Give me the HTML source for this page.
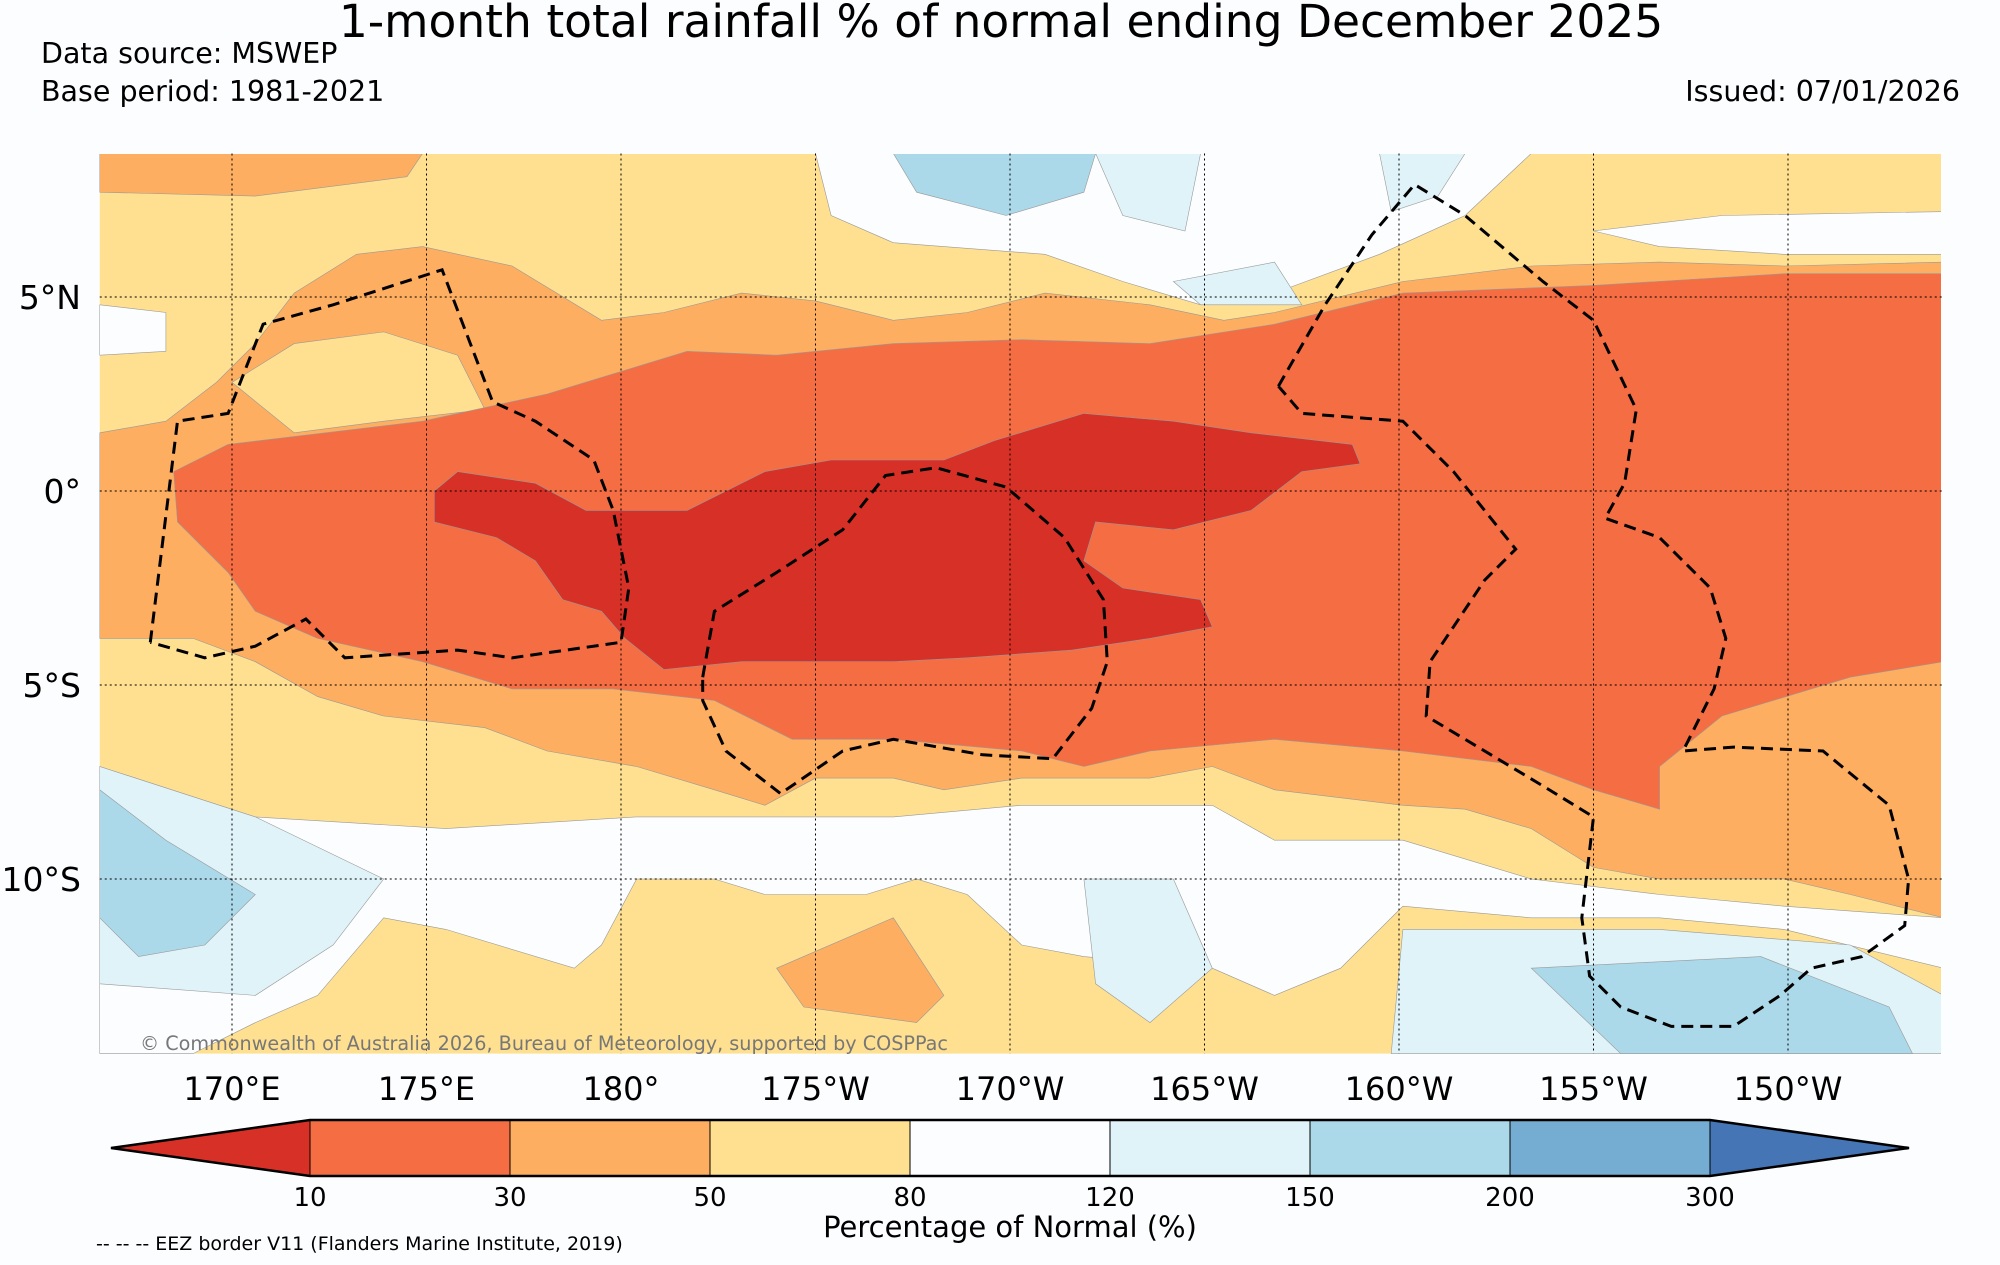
<!DOCTYPE html>
<html><head><meta charset="utf-8"><style>
html,body{margin:0;padding:0;background:#fcfdff;}
svg{display:block;font-family:"DejaVu Sans","Liberation Sans",sans-serif;}
</style></head><body>
<svg id="chart" width="2000" height="1265" viewBox="0 0 2000 1265" xmlns="http://www.w3.org/2000/svg">
<rect width="2000" height="1265" fill="#fcfdff"/>
<text x="1001" y="37" font-size="45.5" text-anchor="middle">1-month total rainfall % of normal ending December 2025</text>
<text x="41" y="63" font-size="28.5">Data source: MSWEP</text>
<text x="41" y="101" font-size="28.5">Base period: 1981-2021</text>
<text x="1960" y="101" font-size="28.5" text-anchor="end">Issued: 07/01/2026</text>
<defs><clipPath id="mapclip"><rect x="99.5" y="154" width="1841.5" height="900"/></clipPath></defs>
<g id="map" clip-path="url(#mapclip)"></g>
<g id="eez" clip-path="url(#mapclip)"></g>
<g id="axes"></g>
<text x="140" y="1050" font-size="19.2" fill="#777">© Commonwealth of Australia 2026, Bureau of Meteorology, supported by COSPPac</text>
<g id="cbar"></g>
<text x="1010" y="1237" font-size="29" text-anchor="middle">Percentage of Normal (%)</text>
<text x="96" y="1250" font-size="19">-- -- -- EEZ border V11 (Flanders Marine Institute, 2019)</text>
</svg>
<script>
const NS="http://www.w3.org/2000/svg";
// colour classes
const levels=[10,30,50,80,120,150,200,300];
const classColors=["#d73027","#f46d43","#fdae61","#fee090","#fcfdff","#e0f3f8","#abd9e9","#74add1","#4575b4"];
// axis ticks
const lonTicks=[170,175,180,185,190,195,200,205,210];
const lonLabels=["170°E","175°E","180°","175°W","170°W","165°W","160°W","155°W","150°W"];
const latTicks=[5,0,-5,-10];
const latLabels=["5°N","0°","5°S","10°S"];
// map extent (degrees)
const lonMin=166.6, lonMax=214.0, latMax=8.7, latMin=-14.5;
// region polygons [lon,lat], drawn in order over yellow (class 3) base
const orangeTopLeft=[[166.6,8.7],[174.9,8.7],[174.5,8.1],[170.6,7.6],[166.6,7.7]];
const orangeMain=[[166.6,1.5],[168.3,1.8],[169.6,2.8],[170.6,3.8],[171.6,5.1],[173.2,6.1],[174.9,6.3],[177.2,5.8],[179.5,4.4],[181.1,4.6],[183.1,5.1],[185.0,4.9],[187.0,4.4],[188.9,4.6],[190.9,5.1],[193.6,4.8],[195.5,4.4],[196.8,4.6],[200.1,5.4],[203.4,5.8],[206.7,5.9],[209.9,5.8],[214,5.9],[214,-11.0],[211.6,-10.4],[209.9,-10.0],[206.7,-10.0],[205,-9.7],[203.4,-8.7],[201.7,-8.2],[200.1,-8.1],[196.8,-7.7],[195.2,-7.1],[193.6,-7.4],[190.3,-7.4],[188.3,-7.7],[187.0,-7.4],[185.0,-7.4],[183.7,-8.1],[182.4,-7.7],[180.4,-7.1],[178.1,-6.7],[176.5,-6.1],[173.9,-5.8],[172.2,-5.3],[170.6,-4.4],[169.0,-3.8],[167.3,-3.8],[166.6,-3.8]];
const yellowPatch=[[170.0,2.8],[171.6,3.8],[173.9,4.1],[175.8,3.5],[176.5,2.1],[173.9,1.8],[171.6,1.5]];
const orangeBlob=[[184.0,-12.3],[187.0,-11.0],[188.3,-13.0],[187.6,-13.7],[184.7,-13.3]];
const redOrange=[[168.5,0.5],[169.9,1.2],[174.9,1.8],[178.1,2.5],[181.7,3.6],[184.0,3.5],[187.0,3.8],[190.3,3.9],[193.6,3.8],[196.8,4.3],[200.1,5.1],[205.0,5.3],[209.9,5.6],[214,5.6],[214,-4.4],[211.6,-4.8],[208.3,-5.8],[206.7,-7.1],[206.7,-8.2],[205.0,-7.7],[203.4,-7.1],[200.1,-6.7],[196.8,-6.4],[193.6,-6.7],[191.9,-7.1],[190.3,-6.7],[187.0,-6.4],[184.4,-6.4],[182.4,-5.4],[179.8,-5.1],[177.2,-5.1],[174.9,-4.4],[172.2,-3.8],[170.6,-3.1],[169.9,-2.1],[168.6,-0.8]];
const redCore=[[175.2,0],[175.8,0.5],[177.8,0.2],[179.1,-0.5],[181.7,-0.5],[183.7,0.5],[185.4,0.8],[188.3,0.8],[189.6,1.3],[191.9,2.0],[194.2,1.8],[196.2,1.5],[198.8,1.2],[199.0,0.7],[197.5,0.5],[196.2,-0.5],[194.2,-1.0],[192.2,-0.8],[191.9,-1.8],[192.9,-2.5],[194.9,-2.8],[195.2,-3.5],[193.6,-3.8],[191.6,-4.1],[188.9,-4.3],[187.0,-4.4],[185.0,-4.4],[183.1,-4.4],[181.1,-4.6],[180.1,-3.8],[179.5,-3.1],[178.5,-2.8],[177.8,-1.8],[176.8,-1.2],[175.2,-0.8]];
const whiteTop=[[185.0,8.7],[203.4,8.7],[201.7,7.1],[199.5,6.1],[196.8,5.1],[194.9,4.8],[192.9,5.4],[190.9,6.1],[187.0,6.4],[185.4,7.1]];
const whiteTopRight=[[205.0,6.7],[208.3,7.1],[214,7.2],[214,6.1],[209.9,6.1],[206.7,6.3]];
const whiteLeft=[[166.6,4.8],[168.3,4.6],[168.3,3.6],[166.6,3.5]];
const whiteBottom=[[166.6,-7.1],[170.6,-8.4],[175.5,-8.7],[180.4,-8.4],[183.7,-8.4],[187.0,-8.4],[190.3,-8.1],[195.2,-8.1],[196.8,-9.0],[200.1,-9.0],[203.4,-10.0],[206.7,-10.4],[209.9,-10.7],[214,-11.0],[214,-12.3],[209.9,-11.3],[206.7,-11.0],[203.4,-11.0],[200.1,-10.7],[198.5,-12.3],[196.8,-13.0],[195.2,-12.3],[191.9,-12.0],[190.3,-11.7],[188.9,-10.4],[187.6,-10.0],[186.3,-10.4],[183.7,-10.4],[182.4,-10.0],[180.4,-10.0],[179.5,-11.7],[178.8,-12.3],[175.5,-11.3],[173.9,-11.0],[172.2,-13.0],[170.6,-13.7],[169.0,-14.5],[166.6,-14.5]];
const lightBlueSW=[[166.6,-7.1],[170.6,-8.4],[173.9,-10.0],[172.6,-11.7],[170.6,-13.0],[166.6,-12.7]];
const blueSW=[[166.6,-7.7],[168.3,-9.0],[170.6,-10.4],[169.3,-11.7],[167.6,-12.0],[166.6,-11.0]];
const lightBlueSE=[[200.1,-11.3],[206.7,-11.3],[211.6,-11.7],[214,-13.0],[214,-14.5],[199.8,-14.5]];
const blueSE=[[203.4,-12.3],[209.3,-12.0],[212.6,-13.3],[213.2,-14.5],[205.7,-14.5]];
const blueTop=[[187.0,8.7],[192.2,8.7],[191.9,7.7],[189.9,7.1],[187.6,7.7]];
const lightBlueTop1=[[192.2,8.7],[194.9,8.7],[194.5,6.7],[192.9,7.1]];
const lightBlueTop2=[[194.2,5.4],[196.8,5.9],[197.5,4.8],[194.9,4.8]];
const lightBlueTop3=[[199.5,8.7],[201.7,8.7],[201.0,7.6],[199.8,7.2]];
const lightBlueMid=[[191.9,-10.0],[194.2,-10.0],[195.2,-12.3],[193.6,-13.7],[192.2,-12.7]];
// EEZ borders
const eezA=[[167.9,-3.9],[168.6,1.8],[169.9,2.0],[170.8,4.3],[172.6,4.8],[175.4,5.7],[176.7,2.3],[177.8,1.8],[179.3,0.8],[179.8,-0.5],[180.2,-2.5],[180.0,-3.9],[177.2,-4.3],[175.8,-4.1],[172.9,-4.3],[171.9,-3.3],[170.6,-4.0],[169.3,-4.3],[167.9,-3.9]];
const eezB=[[182.1,-4.8],[182.4,-3.1],[184.0,-2.1],[185.7,-1.0],[186.8,0.4],[188.1,0.6],[189.9,0.1],[191.4,-1.2],[192.4,-2.8],[192.5,-4.4],[192.1,-5.6],[191.1,-6.9],[189.3,-6.8],[187.0,-6.4],[185.7,-6.7],[184.1,-7.8],[182.7,-6.7],[182.1,-5.4],[182.1,-4.8]];
const eezC=[[196.9,2.7],[198.1,4.8],[199.3,6.6],[200.4,7.9],[201.7,7.1],[203.7,5.4],[205.0,4.4],[206.1,2.1],[205.8,0.2],[205.3,-0.7],[206.7,-1.2],[208.0,-2.5],[208.4,-3.8],[208.1,-5.1],[207.3,-6.7],[208.6,-6.6],[210.9,-6.7],[212.6,-8.1],[213.1,-10.0],[213.0,-11.2],[211.9,-12.0],[210.6,-12.3],[209.8,-13.0],[208.6,-13.8],[207.0,-13.8],[205.7,-13.3],[204.9,-12.5],[204.7,-11.0],[205.0,-8.4],[203.7,-7.6],[200.7,-5.8],[200.8,-4.4],[201.4,-3.5],[202.2,-2.3],[203.0,-1.5],[202.2,-0.5],[201.4,0.5],[200.1,1.8],[197.5,2.0],[196.9,2.7]];

const X=lon=>232+(lon-170)*38.9;
const Y=lat=>491-lat*38.8;
const pts=a=>a.map(p=>X(p[0]).toFixed(1)+","+Y(p[1]).toFixed(1)).join(" ");
const map=document.getElementById("map");
function poly(parent,arr,fill,name){
  const p=document.createElementNS(NS,"polygon");
  p.setAttribute("points",pts(arr));
  p.setAttribute("fill",fill);
  p.setAttribute("stroke","#999");
  p.setAttribute("stroke-width","0.6");
  
  
  parent.appendChild(p);
}
const base=document.createElementNS(NS,"rect");
base.setAttribute("x",X(lonMin));base.setAttribute("y",Y(latMax));
base.setAttribute("width",X(lonMax)-X(lonMin));base.setAttribute("height",Y(latMin)-Y(latMax));
base.setAttribute("fill",classColors[3]);


map.appendChild(base);
poly(map,orangeTopLeft,classColors[2],"region-30-50-nw");
poly(map,orangeMain,classColors[2],"region-30-50-main");
poly(map,yellowPatch,classColors[3],"region-50-80-patch");
poly(map,orangeBlob,classColors[2],"region-30-50-south");
poly(map,redOrange,classColors[1],"region-10-30");
poly(map,redCore,classColors[0],"region-below-10");
poly(map,whiteTop,classColors[4],"region-80-120-north");
poly(map,whiteTopRight,classColors[4],"region-80-120-ne");
poly(map,whiteLeft,classColors[4],"region-80-120-west");
poly(map,whiteBottom,classColors[4],"region-80-120-south");
poly(map,lightBlueSW,classColors[5],"region-120-150-sw");
poly(map,blueSW,classColors[6],"region-150-200-sw");
poly(map,lightBlueSE,classColors[5],"region-120-150-se");
poly(map,blueSE,classColors[6],"region-150-200-se");
poly(map,blueTop,classColors[6],"region-150-200-north");
poly(map,lightBlueTop1,classColors[5],"region-120-150-north-a");
poly(map,lightBlueTop2,classColors[5],"region-120-150-north-b");
poly(map,lightBlueTop3,classColors[5],"region-120-150-north-c");
poly(map,lightBlueMid,classColors[5],"region-120-150-south-mid");

const eez=document.getElementById("eez");
[[eezA,"eez-border-tuvalu"],[eezB,"eez-border-tokelau"],[eezC,"eez-border-kiribati-line"]].forEach(([a,n])=>{
  const l=document.createElementNS(NS,"polyline");
  l.setAttribute("points",pts(a));l.setAttribute("fill","none");
  l.setAttribute("stroke","#000");l.setAttribute("stroke-width","3");
  l.setAttribute("stroke-dasharray","12,7");
  
  
  eez.appendChild(l);
});

const axes=document.getElementById("axes");
lonTicks.forEach((lon,i)=>{
  const l=document.createElementNS(NS,"line");
  l.setAttribute("x1",X(lon));l.setAttribute("x2",X(lon));
  l.setAttribute("y1",Y(latMax));l.setAttribute("y2",Y(latMin));
  l.setAttribute("stroke","#000");l.setAttribute("stroke-width","1");l.setAttribute("stroke-dasharray","2,3");
  
  
  axes.appendChild(l);
  const t=document.createElementNS(NS,"text");
  t.setAttribute("x",X(lon));t.setAttribute("y",1100);t.setAttribute("font-size","32");t.setAttribute("text-anchor","middle");
  t.textContent=lonLabels[i];
  
  
  axes.appendChild(t);
});
latTicks.forEach((lat,i)=>{
  const l=document.createElementNS(NS,"line");
  l.setAttribute("x1",X(lonMin));l.setAttribute("x2",X(lonMax));
  l.setAttribute("y1",Y(lat));l.setAttribute("y2",Y(lat));
  l.setAttribute("stroke","#000");l.setAttribute("stroke-width","1");l.setAttribute("stroke-dasharray","2,3");
  
  
  axes.appendChild(l);
  const t=document.createElementNS(NS,"text");
  t.setAttribute("x",81);t.setAttribute("y",Y(lat)+12);t.setAttribute("font-size","33");t.setAttribute("text-anchor","end");
  t.textContent=latLabels[i];
  
  
  axes.appendChild(t);
});

// colorbar
const cb=document.getElementById("cbar");
const cbX0=310, cbW=200, cbY0=1120, cbY1=1176, tipL=111, tipR=1909;
const CX=i=>cbX0+i*cbW;
const n=levels.length;
function cbPoly(points,fill,name){
  const p=document.createElementNS(NS,"polygon");
  p.setAttribute("points",points);p.setAttribute("fill",fill);
  p.setAttribute("stroke","#000");p.setAttribute("stroke-width","1");
  
  
  cb.appendChild(p);
}
cbPoly(`${CX(0)},${cbY0} ${CX(0)},${cbY1} ${tipL},${(cbY0+cbY1)/2}`,classColors[0],"colorbar-extend-low");
for(let i=0;i<n-1;i++){
  cbPoly(`${CX(i)},${cbY0} ${CX(i+1)},${cbY0} ${CX(i+1)},${cbY1} ${CX(i)},${cbY1}`,classColors[i+1],"colorbar-swatch");
}
cbPoly(`${CX(n-1)},${cbY0} ${CX(n-1)},${cbY1} ${tipR},${(cbY0+cbY1)/2}`,classColors[n],"colorbar-extend-high");
const outline=document.createElementNS(NS,"polygon");
outline.setAttribute("points",`${tipL},${(cbY0+cbY1)/2} ${CX(0)},${cbY0} ${CX(n-1)},${cbY0} ${tipR},${(cbY0+cbY1)/2} ${CX(n-1)},${cbY1} ${CX(0)},${cbY1}`);
outline.setAttribute("fill","none");outline.setAttribute("stroke","#000");outline.setAttribute("stroke-width","2.5");


cb.appendChild(outline);
levels.forEach((v,i)=>{
  const t=document.createElementNS(NS,"text");
  t.setAttribute("x",CX(i));t.setAttribute("y",1206);t.setAttribute("font-size","26");t.setAttribute("text-anchor","middle");
  t.textContent=v;
  
  
  cb.appendChild(t);
});
</script>
</body></html>
